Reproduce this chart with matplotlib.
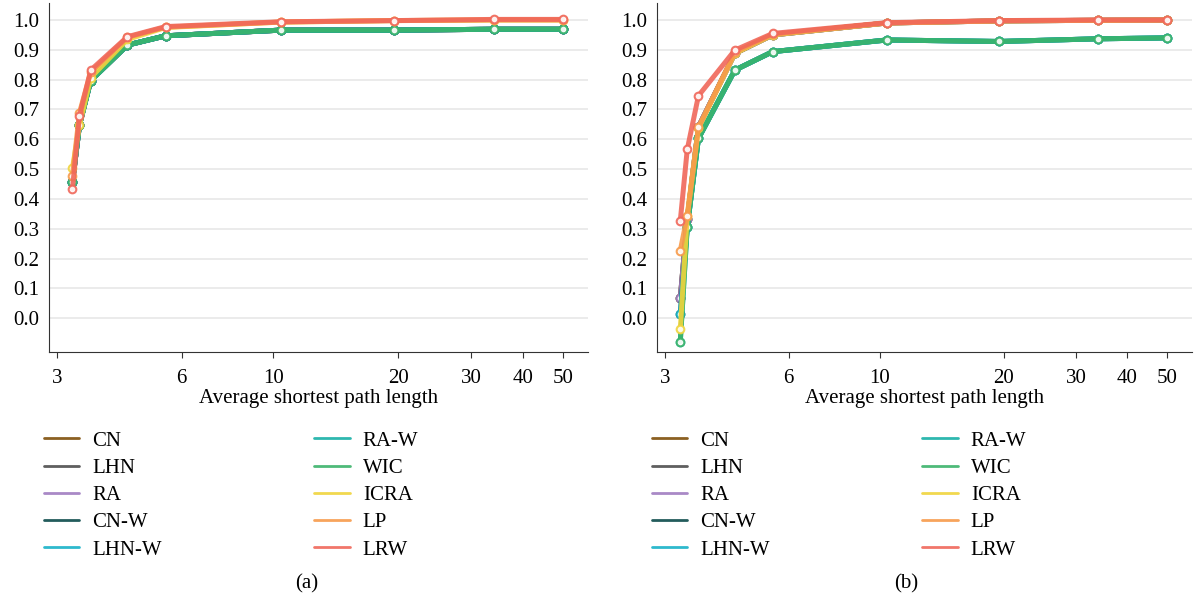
import numpy as np
import matplotlib
matplotlib.use("Agg")
import matplotlib.pyplot as plt

plt.rcParams["font.family"] = ["Liberation Serif", "DejaVu Serif"]

# average shortest path length (x positions, log axis)
path_len = [3.27, 3.40, 3.62, 4.44, 5.49, 10.4, 19.5, 34.0, 50.0]

methods = ["CN", "LHN", "RA", "CN-W", "LHN-W", "RA-W", "WIC", "ICRA", "LP", "LRW"]
colors = ["#7f4f0a", "#4d4d4d", "#a07cc0", "#0b4a4a", "#17b2c8",
          "#17b0a6", "#3bb36a", "#f0d43c", "#f79a4a", "#f0675a"]

# panel (a)
a_low = [0.456, 0.648, 0.797, 0.916, 0.947, 0.966, 0.966, 0.969, 0.969]
a_icra = [0.503, 0.648, 0.807, 0.935, 0.975, 0.993, 0.998, 1.000, 1.000]
a_lp = [0.478, 0.689, 0.825, 0.942, 0.976, 0.993, 0.998, 1.000, 1.000]
a_lrw = [0.433, 0.678, 0.832, 0.944, 0.978, 0.994, 0.998, 1.002, 1.002]
panel_a = {"CN": a_low, "LHN": a_low, "RA": a_low, "CN-W": a_low,
           "LHN-W": a_low, "RA-W": a_low, "WIC": a_low,
           "ICRA": a_icra, "LP": a_lp, "LRW": a_lrw}

# panel (b)
b_unw = [0.067, 0.332, 0.642, 0.888, 0.950, 0.990, 0.997, 0.999, 1.000]
b_icra = [-0.037, 0.343, 0.637, 0.888, 0.950, 0.990, 0.997, 0.999, 1.000]
b_w1 = [0.013, 0.306, 0.603, 0.832, 0.894, 0.933, 0.928, 0.937, 0.940]
b_w2 = [-0.078, 0.306, 0.603, 0.832, 0.894, 0.933, 0.928, 0.937, 0.940]
b_lp = [0.227, 0.343, 0.640, 0.892, 0.952, 0.990, 0.997, 0.999, 1.000]
b_lrw = [0.327, 0.566, 0.746, 0.899, 0.955, 0.991, 0.998, 1.000, 1.000]
panel_b = {"CN": b_unw, "LHN": b_unw, "RA": b_unw, "CN-W": b_w1,
           "LHN-W": b_w1, "RA-W": b_w2, "WIC": b_w2,
           "ICRA": b_icra, "LP": b_lp, "LRW": b_lrw}

xticks = [3, 6, 10, 20, 30, 40, 50]
yticks = [0.0, 0.1, 0.2, 0.3, 0.4, 0.5, 0.6, 0.7, 0.8, 0.9, 1.0]

W, H = 1194, 603
fig = plt.figure(figsize=(W / 100, H / 100), dpi=100)
fs = 15

def make_panel(rect, data, tag, leg_x, tag_x):
    ax = fig.add_axes(rect)
    for m, c in zip(methods, colors):
        ax.plot(path_len, data[m], color=c, lw=3.6, alpha=0.9, label=m,
                marker="o", ms=5.5, mfc="white", mec=c, mew=1.5, solid_capstyle="round")
    ax.set_xscale("log")
    ax.set_xlim(2.87, 57.5)
    ax.set_ylim(-0.113, 1.057)
    ax.set_xticks(xticks)
    ax.set_xticklabels([str(t) for t in xticks])
    ax.xaxis.set_minor_locator(matplotlib.ticker.NullLocator())
    ax.set_yticks(yticks)
    ax.set_yticklabels([f"{t:.1f}" for t in yticks])
    ax.tick_params(axis="y", length=0, labelsize=fs, pad=7)
    ax.tick_params(axis="x", length=4, labelsize=fs, color="#333333", pad=8)
    ax.grid(axis="y", color="#e8e8e8", lw=1.2)
    ax.set_axisbelow(True)
    for s in ["top", "right"]:
        ax.spines[s].set_visible(False)
    for s in ["left", "bottom"]:
        ax.spines[s].set_color("#333333")
    ax.set_xlabel("Average shortest path length", fontsize=fs, labelpad=1)
    ax.legend(ncol=2, loc="upper left", bbox_to_anchor=(leg_x, 1 - 431 / H),
              bbox_transform=fig.transFigure, frameon=False, fontsize=fs,
              handlelength=1.7, handletextpad=0.63, columnspacing=7.3,
              labelspacing=0.37, borderaxespad=0, borderpad=0)
    for ln in ax.get_legend().get_lines():
        ln.set_marker("")
        ln.set_linewidth(2.0)
    fig.text(tag_x, 1 - 584 / H, tag, ha="center", va="center", fontsize=fs)
    return ax

make_panel([49 / W, 1 - 352 / H, (588 - 49) / W, 349 / H], panel_a, "(a)",
           44 / W, 307 / W)
make_panel([657 / W, 1 - 352 / H, (1192 - 657) / W, 349 / H], panel_b, "(b)",
           652 / W, 906 / W)

fig.savefig("out.png", dpi=100)
